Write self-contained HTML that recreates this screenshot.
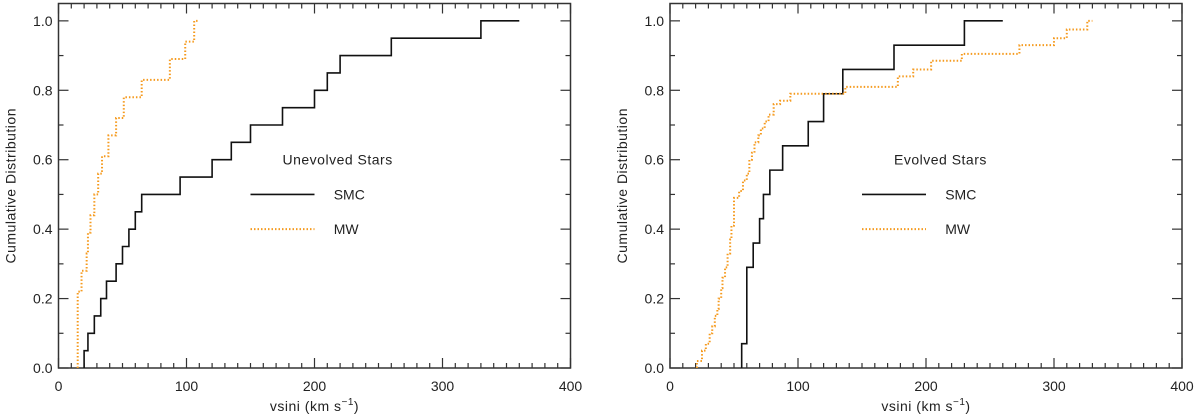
<!DOCTYPE html>
<html><head><meta charset="utf-8"><style>
html,body{margin:0;padding:0;background:#fff;}
svg{display:block;}
text{font-family:"Liberation Sans",sans-serif;fill:#222;}
</style></head><body>
<svg id="fig" width="1200" height="418" viewBox="0 0 1200 418" xmlns="http://www.w3.org/2000/svg"></svg>
<script>
// Left panel data (unevolved)
const smcUnevX = [20,23,28,33,37.5,45,50,55,60,65,95,120,135,150,175,200,210,220,260,330];
const smcUnevY = [0.05,0.10,0.15,0.20,0.25,0.30,0.35,0.40,0.45,0.50,0.55,0.60,0.65,0.70,0.75,0.80,0.85,0.90,0.95,1.00];
const smcUnevEnd = 360;
const mwUnevX = [15,18,22,23,25,28,31,34,39,45,51,65,87,99,106];
const mwUnevY = [0.22,0.28,0.33,0.39,0.44,0.50,0.56,0.61,0.67,0.72,0.78,0.83,0.89,0.94,1.00];
const mwUnevEnd = 110;
// Right panel data (evolved)
const smcEvX = [56,60,65,70,73,78,88,108,120,135,175,230];
const smcEvY = [0.07,0.29,0.36,0.43,0.50,0.57,0.64,0.71,0.79,0.86,0.93,1.00];
const smcEvEnd = 260;
const mwEvX = [21,25,28,31,33,35,37,38,40,41,43,45,47,48,50,54,57,60,62,64,66,69,71,74,77,81,86,94,137,178,190,204,228,273,300,310,326];
const mwEvY = [0.02,0.05,0.07,0.10,0.12,0.15,0.17,0.20,0.23,0.26,0.29,0.33,0.37,0.41,0.49,0.51,0.54,0.56,0.60,0.62,0.65,0.67,0.69,0.71,0.73,0.76,0.77,0.79,0.81,0.84,0.86,0.885,0.905,0.93,0.95,0.975,1.00];
const mwEvEnd = 330;
const xTicks = [0,100,200,300,400];
const yTicks = [0.0,0.2,0.4,0.6,0.8,1.0];
const xTickLabels = ["0","100","200","300","400"];
const yTickLabels = ["0.0","0.2","0.4","0.6","0.8","1.0"];

const NS = "http://www.w3.org/2000/svg";
const svg = document.getElementById('fig');
function mk(tag, attrs, parent){const e=document.createElementNS(NS,tag);for(const k in attrs)e.setAttribute(k,attrs[k]);(parent||svg).appendChild(e);return e;}

function panel(x0, title, name, sX, sY, sEnd, mX, mY, mEnd){
  const x1 = x0 + 512, yT = 3.5, yB = 368;
  const xs = v => x0 + v/400*(x1-x0);
  const ys = v => yB - v/1.05*(yB-yT);
  const g = mk('g',{});
  
  
  const frame = mk('rect',{x:x0,y:yT,width:x1-x0,height:yB-yT,fill:'none',stroke:'#333','stroke-width':1.5},g);
  
  
  // x ticks
  for(let v=0; v<=400; v+=10){
    const major = v%100===0, L = major?10:5;
    const t1=mk('line',{x1:xs(v),x2:xs(v),y1:yB,y2:yB-L,stroke:'#333','stroke-width':1.2},g);
    
    
    const t2=mk('line',{x1:xs(v),x2:xs(v),y1:yT,y2:yT+L,stroke:'#333','stroke-width':1.2},g);
    
    
  }
  for(let i=0;i<=10;i++){
    const v=i/10, major=i%2===0, L=major?10:5;
    const t1=mk('line',{x1:x0,x2:x0+L,y1:ys(v),y2:ys(v),stroke:'#333','stroke-width':1.2},g);
    
    
    const t2=mk('line',{x1:x1,x2:x1-L,y1:ys(v),y2:ys(v),stroke:'#333','stroke-width':1.2},g);
    
    
  }
  xTicks.forEach((v,i)=>{
    const t=mk('text',{x:xs(v),y:391,'text-anchor':'middle','font-size':14},g);
    t.textContent=xTickLabels[i];
    
    
  });
  yTicks.forEach((v,i)=>{
    const t=mk('text',{x:x0-6,y:ys(v)+5,'text-anchor':'end','font-size':14},g);
    t.textContent=yTickLabels[i];
    
    
  });
  const xt=mk('text',{x:(x0+x1)/2,y:411,'text-anchor':'middle','font-size':14,'letter-spacing':'0.5'},g);
  xt.innerHTML='vsini (km s<tspan dy="-6" font-size="10">−1</tspan><tspan dy="6">)</tspan>';
  
  
  const yt=mk('text',{x:0,y:0,'text-anchor':'middle','font-size':14,'letter-spacing':'0.5',transform:`translate(${x0-43},${(yT+yB)/2}) rotate(-90)`},g);
  yt.textContent='Cumulative Distribution';
  
  
  function stepPath(X,Y,end){
    let d=`M${xs(X[0])},${ys(0)}`;
    for(let i=0;i<X.length;i++){
      d+=` L${xs(X[i])},${ys(Y[i])}`;
      const nx = i+1<X.length?X[i+1]:end;
      d+=` L${xs(nx)},${ys(Y[i])}`;
    }
    return d;
  }
  const p1=mk('path',{d:stepPath(sX,sY,sEnd),fill:'none',stroke:'#111','stroke-width':1.6},g);
  
  
  const p2=mk('path',{d:stepPath(mX,mY,mEnd),fill:'none',stroke:'#f59a1e','stroke-width':2,'stroke-dasharray':'1.5,2'},g);
  
  
  // legend
  const lt=mk('text',{x:xs(175),y:ys(0.6)+5,'font-size':14,'letter-spacing':'0.5'},g);
  lt.textContent=title;
  
  
  const l1=mk('line',{x1:xs(150),x2:xs(200),y1:ys(0.5),y2:ys(0.5),stroke:'#111','stroke-width':1.6},g);
  
  
  const s1=mk('text',{x:xs(215),y:ys(0.5)+5,'font-size':14},g);
  s1.textContent='SMC';
  
  
  const l2=mk('line',{x1:xs(150),x2:xs(200),y1:ys(0.4),y2:ys(0.4),stroke:'#f59a1e','stroke-width':2,'stroke-dasharray':'1.5,2'},g);
  
  
  const s2=mk('text',{x:xs(215),y:ys(0.4)+5,'font-size':14},g);
  s2.textContent='MW';
  
  
}
panel(58.5,'Unevolved Stars','unevolved-panel',smcUnevX,smcUnevY,smcUnevEnd,mwUnevX,mwUnevY,mwUnevEnd);
panel(670,'Evolved Stars','evolved-panel',smcEvX,smcEvY,smcEvEnd,mwEvX,mwEvY,mwEvEnd);
</script>
</body></html>
